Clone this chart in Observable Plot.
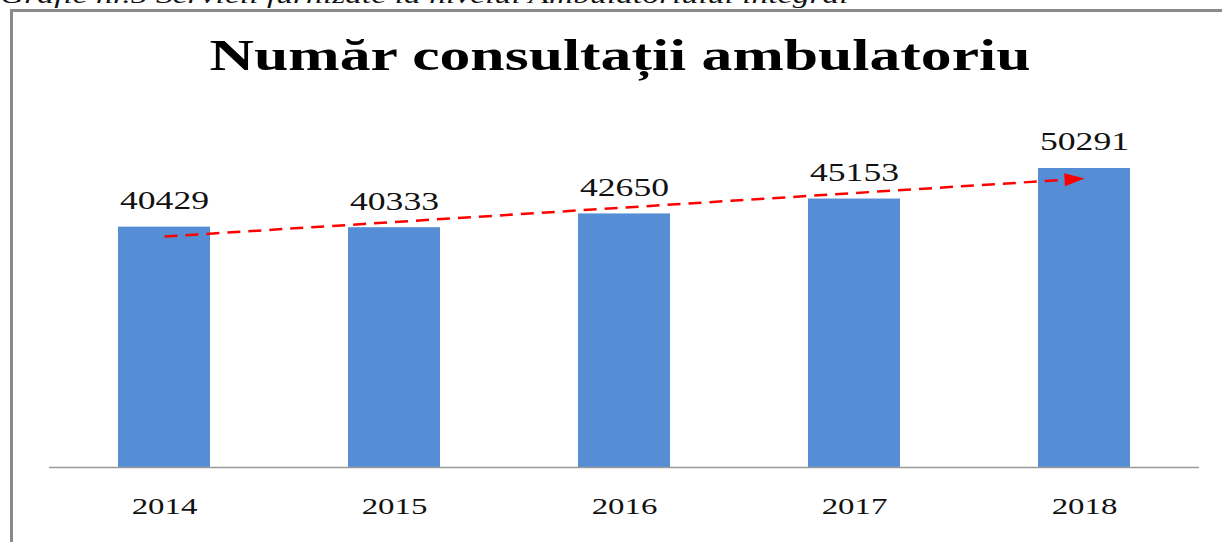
<!DOCTYPE html>
<html>
<head>
<meta charset="utf-8">
<script src="https://cdn.jsdelivr.net/npm/d3@7"></script>
<script src="https://cdn.jsdelivr.net/npm/@observablehq/plot@0.6"></script>
<style>
  body { margin: 0; background: #fff; }
  #wrap { position: relative; width: 1222px; height: 542px; overflow: hidden; background: #fff; }
  .cap { position: absolute; left: 0; top: -17px; font: italic 24px/24px "Liberation Serif", "Times New Roman", serif; white-space: nowrap; color: #111; transform: scaleX(1.4); transform-origin: left center; }
  .title { position: absolute; left: 9px; top: 33px; width: 1222px; text-align: center; font: bold 45px/45px "Liberation Serif", "Times New Roman", serif; color: #000; white-space: nowrap; transform: scaleX(1.37); transform-origin: center center; }
  #chart { position: absolute; left: 0; top: 80px; }
  #chart text { font-family: "Liberation Serif", "Times New Roman", serif; }
  .frame { position: absolute; left: 10px; top: 9px; right: -10px; bottom: -10px; border-left: 3px solid #8a8a8a; border-top: 3px solid #8a8a8a; pointer-events: none; }
</style>
</head>
<body>
<div id="wrap">
  <div class="cap">Grafic nr.5 Servicii furnizate la nivelul Ambulatoriului integral</div>
  <div class="title">Număr consultații ambulatoriu</div>
  <div id="chart"></div>
  <div class="frame"></div>
</div>
<script>
// ---- data ----
const years = ["2014", "2015", "2016", "2017", "2018"];
const consultations = [40429, 40333, 42650, 45153, 50291];
// trend arrow endpoints
const trendYears = ["2014", "2018"];
const trendValues = [38850, 48600];

const data = years.map((year, i) => ({year, value: consultations[i]}));
const trend = [{x1: trendYears[0], x2: trendYears[1], y1: trendValues[0], y2: trendValues[1]}];

const SERIF = '"Liberation Serif", "Times New Roman", serif';
const STRETCH = 1.37;
const arrowHead = {
  draw(context, size) {
    const L = 20, W = 13;
    context.moveTo(0, 0);
    context.lineTo(-L, -W / 2);
    context.lineTo(-L, W / 2);
    context.closePath();
  }
};

function build(angle) {
  return Plot.plot({
    width: 1222,
    height: 462,
    marginTop: 60,
    marginBottom: 75,
    marginLeft: 49,
    marginRight: 23,
    style: {fontFamily: SERIF, fontSize: "24px", color: "#111", background: "transparent"},
    x: {type: "band", domain: years, paddingInner: 0.6, paddingOuter: 0.3, label: null},
    y: {domain: [0, 55000], axis: null},
    marks: [
      Plot.barY(data, {x: "year", y: "value", fill: "#558ED5"}),
      Plot.ruleY([0], {stroke: "#9a9a9a", strokeWidth: 1.5}),
      Plot.text(data, {x: "year", y: "value", text: d => String(d.value), dy: -18, lineAnchor: "bottom", fontSize: 26, fontFamily: SERIF, fill: "#111"}),
      Plot.link(trend, {x1: "x1", y1: "y1", x2: "x2", y2: "y2", stroke: "#ff0000", strokeWidth: 2.5, strokeDasharray: "13,8"}),
      Plot.dot(trend, {x: "x2", y: "y2", symbol: arrowHead, r: 5, fill: "#ff0000", stroke: "none", rotate: angle}),
      Plot.axisX({tickSize: 0, tickPadding: 29, fontSize: 24, fontFamily: SERIF, label: null})
    ]
  });
}

let chart = build(0);
const sx = chart.scale("x"), sy = chart.scale("y");
const ax1 = sx.apply(trendYears[0]), ax2 = sx.apply(trendYears[1]);
const ay1 = sy.apply(trendValues[0]), ay2 = sy.apply(trendValues[1]);
const angle = Math.atan2(ay2 - ay1, ax2 - ax1) * 180 / Math.PI;
chart = build(angle);
document.getElementById("chart").appendChild(chart);

chart.querySelectorAll("text").forEach(t => {
  const w = t.getComputedTextLength();
  if (w > 0) {
    t.setAttribute("textLength", w * STRETCH);
    t.setAttribute("lengthAdjust", "spacingAndGlyphs");
  }
});
</script>
</body>
</html>
